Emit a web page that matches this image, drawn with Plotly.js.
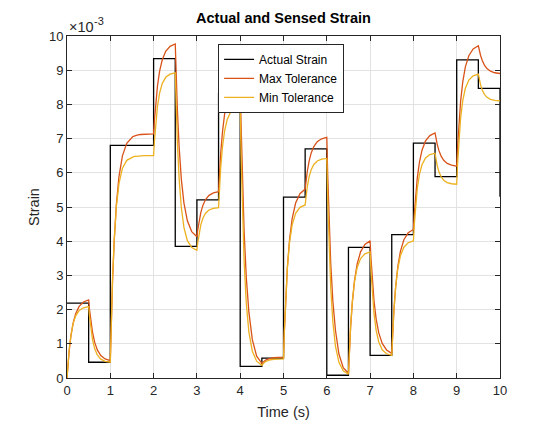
<!DOCTYPE html>
<html>
<head>
<meta charset="utf-8">
<script src="https://cdn.plot.ly/plotly-3.0.1.min.js"></script>
<style>html,body{margin:0;padding:0;background:#fff;}#chart{width:546px;height:429px;}</style>
</head>
<body>
<div id="chart"></div>
<script>
// Step times and actual strain (x10^-3), one value per 0.5 s segment, plus end point
const stepTimes = [0,0.5,1,1.5,2,2.5,3,3.5,4,4.5,5,5.5,6,6.5,7,7.5,8,8.5,9,9.5,10];
const actualStrain = [2.19,0.46,6.80,6.80,9.34,3.85,5.21,8.32,0.34,0.58,5.29,6.70,0.08,3.82,0.66,4.19,6.87,5.89,9.30,8.47,5.30];

// Sample offsets within each 0.5 s segment at which the tolerance curves were read
const sampleOffsets = [0.02,0.05,0.09,0.14,0.2,0.28,0.38,0.5];

// Max tolerance readings (x10^-3): start value then 8 per segment
const maxTolerance = [0,
 0.356,0.791,1.224,1.598,1.882,2.095,2.222,2.284,
 2.004,1.667,1.330,1.041,0.820,0.655,0.556,0.508,
 1.528,2.769,4.008,5.075,5.888,6.497,6.861,7.037,
 7.06,7.07,7.09,7.11,7.12,7.13,7.14,7.14,
 7.550,8.050,8.549,8.979,9.306,9.551,9.698,9.769,
 8.890,7.817,6.747,5.824,5.122,4.596,4.281,4.129,
 4.336,4.587,4.837,5.053,5.217,5.340,5.414,5.449,
 5.955,6.571,7.186,7.716,8.119,8.421,8.601,8.689,
 7.411,5.851,4.295,2.954,1.934,1.120,0.640,0.430,
 0.458,0.491,0.525,0.554,0.576,0.593,0.602,0.607,
 1.376,2.311,3.243,4.046,4.657,5.116,5.390,5.523,
 5.756,6.045,6.333,6.580,6.769,6.911,6.995,7.036,
 5.972,4.668,3.368,2.247,1.395,0.700,0.300,0.140,
 0.743,1.479,2.213,2.846,3.328,3.689,3.905,4.009,
 3.500,2.879,2.258,1.724,1.317,1.012,0.820,0.720,
 1.285,1.974,2.662,3.254,3.705,4.043,4.245,4.343,
 4.781,5.318,5.854,6.316,6.668,6.932,7.089,7.166,
 7.018,6.833,6.648,6.488,6.367,6.276,6.222,6.195,
 6.748,7.417,8.084,8.658,9.096,9.424,9.620,9.715,
 9.593,9.437,9.282,9.148,9.047,8.971,8.925,8.903];

// Min tolerance readings (x10^-3)
const minTolerance = [0,
 0.381,0.826,1.246,1.582,1.816,1.972,2.053,2.086,
 1.793,1.445,1.117,0.854,0.672,0.550,0.487,0.461,
 1.555,2.837,4.044,5.011,5.683,6.133,6.365,6.460,
 6.47,6.48,6.48,6.49,6.49,6.50,6.50,6.50,
 6.942,7.460,7.948,8.338,8.610,8.792,8.885,8.924,
 7.974,6.866,5.822,4.987,4.406,4.017,3.817,3.735,
 3.958,4.226,4.478,4.679,4.820,4.913,4.962,4.982,
 5.520,6.153,6.748,7.225,7.557,7.779,7.893,7.940,
 6.558,4.942,3.418,2.199,1.351,0.783,0.491,0.371,
 0.404,0.445,0.483,0.513,0.534,0.548,0.556,0.559,
 1.381,2.343,3.248,3.973,4.477,4.815,4.989,5.060,
 5.308,5.599,5.873,6.092,6.245,6.347,6.399,6.421,
 5.269,3.921,2.652,1.636,0.929,0.456,0.212,0.113,
 0.763,1.527,2.246,2.822,3.223,3.491,3.629,3.686,
 3.137,2.490,1.880,1.392,1.053,0.825,0.708,0.660,
 1.271,1.986,2.660,3.199,3.574,3.825,3.955,4.007,
 4.478,5.025,5.541,5.954,6.241,6.433,6.532,6.573,
 6.405,6.212,6.030,5.884,5.783,5.715,5.680,5.666,
 6.257,6.945,7.593,8.111,8.472,8.713,8.837,8.888,
 8.747,8.579,8.421,8.295,8.207,8.148,8.118,8.105];

const xTicks = [0,1,2,3,4,5,6,7,8,9,10];
const yTicks = [0,1,2,3,4,5,6,7,8,9,10];

// sample times built from segment starts and offsets
const sampleTimes = [0];
for (let k = 0; k < stepTimes.length - 1; k++) {
  for (const d of sampleOffsets) sampleTimes.push(+(stepTimes[k] + d).toFixed(3));
}

const FONT = 'Liberation Sans, Arial, Helvetica, sans-serif';
const AX = '#262626';

const traces = [
  {x: stepTimes, y: actualStrain, type: 'scatter', mode: 'lines', name: 'Actual Strain',
   line: {color: '#000000', width: 1.3, shape: 'hv'}},
  {x: sampleTimes, y: maxTolerance, type: 'scatter', mode: 'lines', name: 'Max Tolerance',
   line: {color: '#D95319', width: 1.3}},
  {x: sampleTimes, y: minTolerance, type: 'scatter', mode: 'lines', name: 'Min Tolerance',
   line: {color: '#EDB120', width: 1.3}}
];

const axisCommon = {
  showline: true, linecolor: AX, linewidth: 1, mirror: 'ticks',
  ticks: 'inside', ticklen: 5, tickcolor: AX, tickwidth: 1,
  showgrid: true, gridcolor: '#e2e2e2', gridwidth: 1, zeroline: false,
  tickfont: {family: FONT, size: 13, color: AX}
};

const layout = {
  width: 546, height: 429,
  margin: {l: 67, r: 46, t: 36, b: 51},
  paper_bgcolor: '#ffffff', plot_bgcolor: '#ffffff',
  font: {family: FONT, color: AX},
  title: {text: '<b>Actual and Sensed Strain</b>', font: {family: FONT, size: 14.5, color: '#000'},
          x: 0.5, xref: 'paper', y: 1 - 18/429, yref: 'container', yanchor: 'middle'},
  xaxis: Object.assign({}, axisCommon, {
    range: [0, 10], tickvals: xTicks, ticktext: xTicks.map(String),
    title: {text: 'Time (s)', font: {family: FONT, size: 14.5, color: AX}, standoff: 10}
  }),
  yaxis: Object.assign({}, axisCommon, {
    range: [0, 10], tickvals: yTicks, ticktext: yTicks.map(String),
    title: {text: 'Strain', font: {family: FONT, size: 14.5, color: AX}, standoff: 5}
  }),
  showlegend: true,
  legend: {x: 0.349, y: 0.977, xanchor: 'left', yanchor: 'top',
           bgcolor: '#ffffff', bordercolor: AX, borderwidth: 1,
           font: {family: FONT, size: 12, color: '#000'}, tracegroupgap: 0},
  annotations: [
    {text: '\u00d710', xref: 'paper', yref: 'paper', x: 0, y: 1,
     xanchor: 'left', yanchor: 'bottom', showarrow: false, yshift: -1, xshift: 0,
     font: {family: FONT, size: 14.5, color: AX}},
    {text: '-3', xref: 'paper', yref: 'paper', x: 0, y: 1,
     xanchor: 'left', yanchor: 'bottom', showarrow: false, yshift: 7, xshift: 25,
     font: {family: FONT, size: 11, color: AX}}
  ]
};

Plotly.newPlot('chart', traces, layout, {displayModeBar: false, staticPlot: true});
</script>
</body>
</html>
